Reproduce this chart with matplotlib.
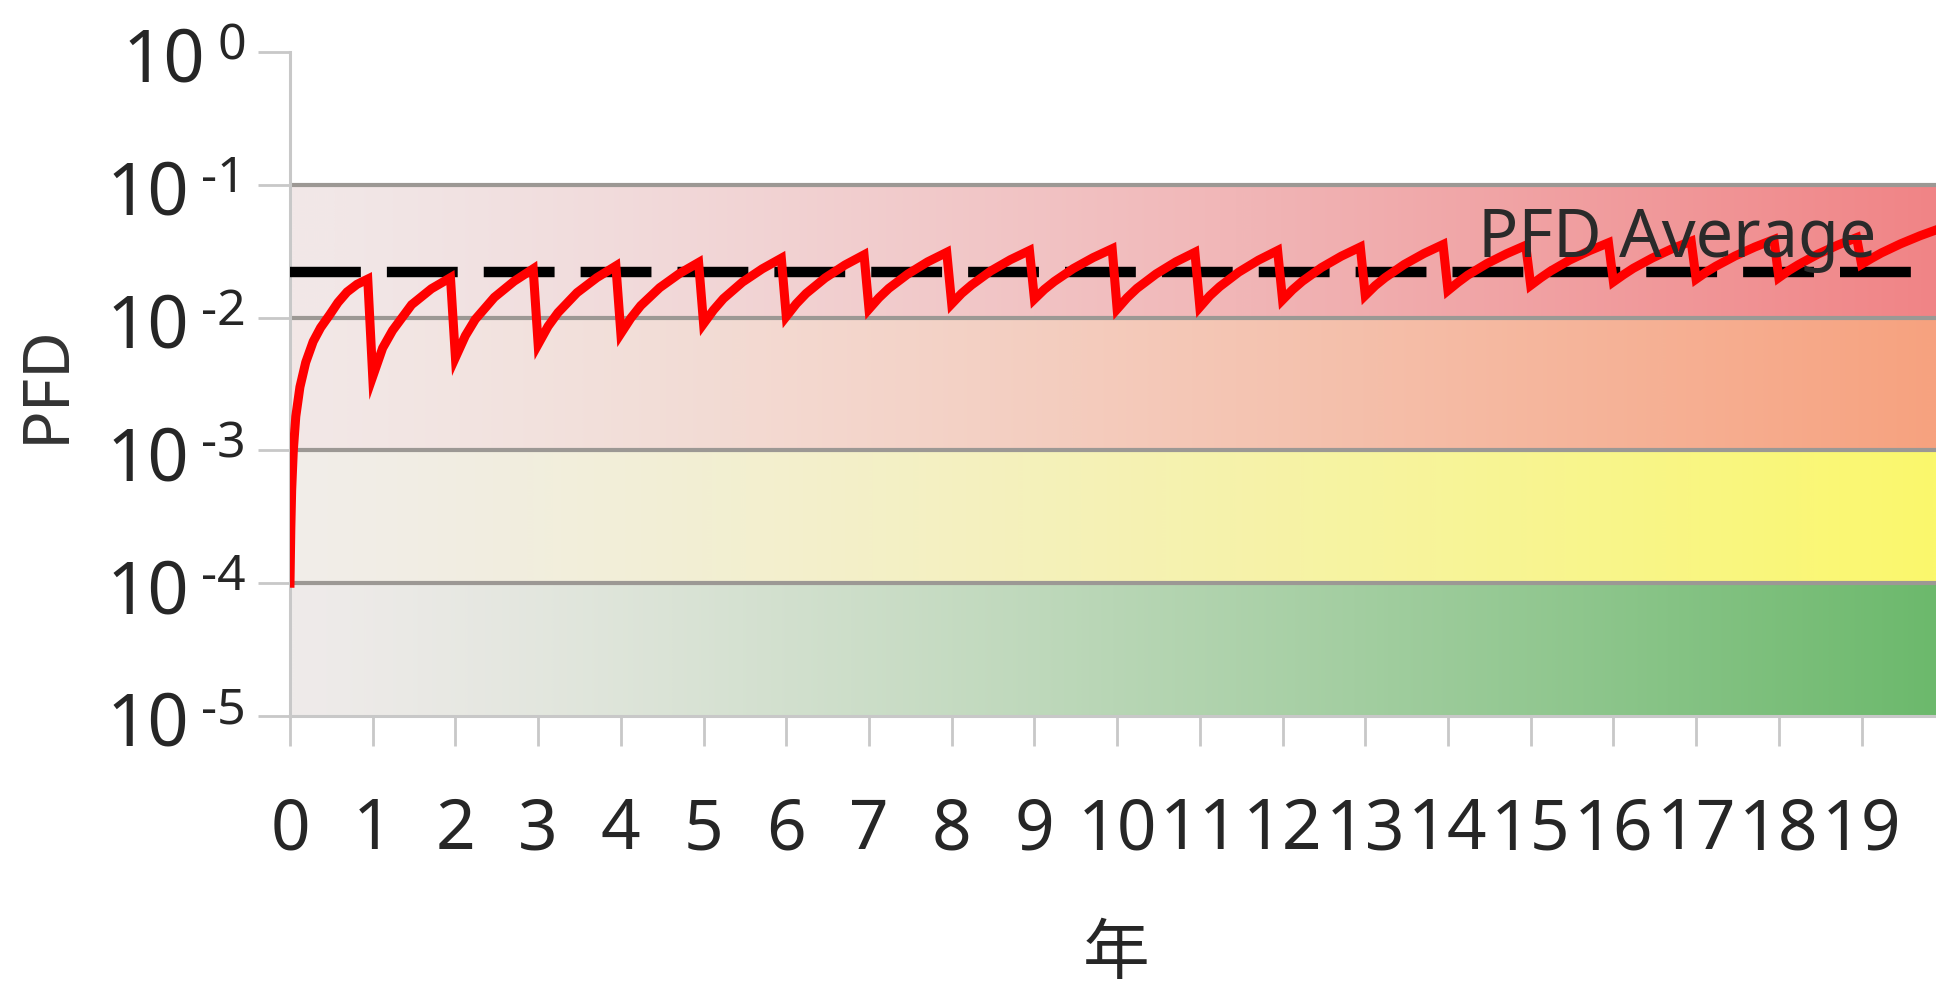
import matplotlib

matplotlib.use("Agg")
import matplotlib.pyplot as plt
import numpy as np
from matplotlib.colors import to_rgb
from matplotlib.ticker import NullLocator

# PFD curve (years, PFD)
# first rise from t=0 up to the first proof test
ramp_years = [0.0, 0.01, 0.02, 0.04, 0.07, 0.12, 0.19, 0.28, 0.37, 0.48, 0.58, 0.69, 0.81]
ramp_pfd = [1.0e-4, 2.6e-4, 5.0e-4, 1.0e-3, 1.8e-3, 3.0e-3, 4.6e-3, 6.6e-3, 8.4e-3,
            0.0105, 0.0130, 0.0156, 0.0178]

# yearly proof tests: value just before each test, right after it,
# and 0.12 / 0.24 / 0.47 / 0.71 years after it
test_years = list(range(1, 20))
pfd_before_test = [0.0195, 0.0200, 0.0233, 0.0245, 0.0260, 0.0280, 0.0297, 0.0310, 0.0320, 0.0330,
                   0.0310, 0.0320, 0.0340, 0.0355, 0.0350, 0.0366, 0.0376, 0.0387, 0.0400]
pfd_after_test = [0.0036, 0.0050, 0.0063, 0.0076, 0.0090, 0.0102, 0.0116, 0.0127, 0.0138, 0.0116,
                  0.0120, 0.0136, 0.0147, 0.0160, 0.0175, 0.0186, 0.0195, 0.0200, 0.0252]
pfd_012 = [0.0059, 0.0073, 0.0086, 0.0099, 0.0114, 0.0127, 0.0141, 0.0152, 0.0163, 0.0141,
           0.0146, 0.0162, 0.0174, 0.0184, 0.0199, 0.0210, 0.0220, 0.0226, 0.0279]
pfd_024 = [0.0080, 0.0097, 0.0109, 0.0123, 0.0139, 0.0152, 0.0166, 0.0176, 0.0187, 0.0166,
           0.0171, 0.0188, 0.0200, 0.0209, 0.0224, 0.0235, 0.0244, 0.0251, 0.0307]
pfd_047 = [0.0125, 0.0142, 0.0154, 0.0168, 0.0185, 0.0199, 0.0213, 0.0224, 0.0234, 0.0213,
           0.0220, 0.0238, 0.0251, 0.0255, 0.0271, 0.0281, 0.0291, 0.0300, 0.0359]
pfd_071 = [0.0165, 0.0188, 0.0200, 0.0215, 0.0233, 0.0249, 0.0263, 0.0273, 0.0283, 0.0263,
           0.0271, 0.0290, 0.0304, 0.0303, 0.0319, 0.0330, 0.0340, 0.0351, 0.0414]

end_year = 19.9
end_pfd = 0.0457

pfd_average = 0.022

# coloured risk bands
band_edges = [1e-5, 1e-4, 1e-3, 1e-2, 1e-1]
band_left_colors = ["#efebea", "#f1ede9", "#f2e8e7", "#f2e8e8"]
band_right_colors = ["#6cb96c", "#fbf86c", "#f7a27f", "#f08486"]

ytick_exponents = [0, -1, -2, -3, -4, -5]
xtick_years = list(range(0, 20))

plt.rcParams["font.family"] = ["Noto Sans", "Noto Sans CJK SC", "DejaVu Sans"]
text_color = "#262626"
axis_gray = "#c8c8c8"

fig = plt.figure(figsize=(19.36, 9.93), dpi=100)
ax = fig.add_axes([290 / 1936, 1 - 716 / 993, 1646 / 1936, 664 / 993])
ax.set_yscale("log")

ramp = np.linspace(0, 1, 400) ** 1.25
for lo, hi, c0, c1 in zip(band_edges[:-1], band_edges[1:], band_left_colors, band_right_colors):
    c0, c1 = np.array(to_rgb(c0)), np.array(to_rgb(c1))
    img = c0 + (c1 - c0) * ramp[:, None]
    ax.imshow(img[None, :, :], extent=(0, end_year, lo, hi), aspect="auto",
              interpolation="bilinear", zorder=0)

for edge in band_edges[1:]:
    ax.axhline(edge, color="#9c9894", lw=3, zorder=1)

ax.axhline(pfd_average, color="black", lw=7.5, ls=(0, (6.8, 2.5)), zorder=3)

t = list(ramp_years) + [end_year]
v = list(ramp_pfd) + [end_pfd]
for offset, values in [(-0.06, pfd_before_test), (0.0, pfd_after_test), (0.12, pfd_012),
                       (0.24, pfd_024), (0.47, pfd_047), (0.71, pfd_071)]:
    t += [y + offset for y in test_years]
    v += values
order = np.argsort(t)
ax.plot(np.asarray(t)[order], np.asarray(v)[order], color="#ff0000", lw=6.5, zorder=4,
        solid_joinstyle="miter")

ax.annotate("PFD Average", xy=(0.964, pfd_average), xycoords=("axes fraction", "data"),
            xytext=(0, 15), textcoords="offset pixels", ha="right", va="baseline",
            fontsize=48, color="#2a2a2a", zorder=5)

ax.set_xlim(0, end_year)
ax.set_ylim(1e-5, 1)

ax.set_xticks(xtick_years)
ax.set_xticklabels([str(x) for x in xtick_years])
ax.set_yticks([10.0 ** e for e in ytick_exponents])
ax.yaxis.set_minor_locator(NullLocator())
ax.tick_params(axis="x", length=21.6, width=2, color=axis_gray, pad=36,
               labelsize=50, labelcolor=text_color)
ax.tick_params(axis="y", length=23, width=2, color=axis_gray, labelleft=False)

# "10" with a raised exponent for each decade
for e in ytick_exponents:
    sup = ax.annotate("%d" % e, xy=(0, 10.0 ** e),
                      xycoords=("axes fraction", "data"), xytext=(-44, -7),
                      textcoords="offset pixels", ha="right", va="baseline",
                      fontsize=36, color=text_color)
    ax.annotate("10", xy=(0, 10.0 ** e), xycoords=(sup, "data"), xytext=(-12, -30),
                textcoords="offset pixels", ha="right", va="baseline",
                fontsize=52, color=text_color)

for side in ["top", "right"]:
    ax.spines[side].set_visible(False)
for side in ["left", "bottom"]:
    ax.spines[side].set_color(axis_gray)
    ax.spines[side].set_linewidth(2.2)

ax.set_ylabel("PFD", fontsize=46, color="#333333")
ax.yaxis.label.set_va("center")
ax.yaxis.set_label_coords(-0.1476, 0.5)
ax.set_xlabel("年", fontsize=48, color=text_color, family=["Noto Sans CJK SC"])
ax.xaxis.label.set_va("center")
ax.xaxis.set_label_coords(0.502, -0.36)

fig.savefig("out.png", dpi=100)
